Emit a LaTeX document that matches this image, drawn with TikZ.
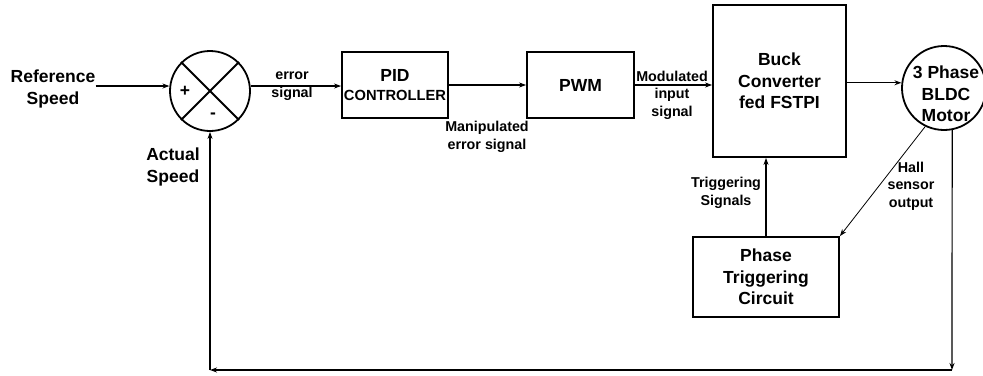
\documentclass[tikz,border=0pt]{standalone}
\usepackage{fontspec}
\setmainfont{Liberation Sans}
\usetikzlibrary{arrows.meta}
\begin{document}
\begin{tikzpicture}[x = 1pt, y = -1pt,
        every node/.style = {font = \bfseries\fontsize{17.5}{21.5}\selectfont, align = center, inner sep = 0pt},
        small/.style = {font = \bfseries\fontsize{14.3}{17.5}\selectfont},
        blk/.style = {draw, line width = 1.8pt},
        ring/.style = {draw, circle, line width = 1.8pt, minimum size = #1},
        conn/.style = {line width = 1.2pt, -{Stealth[length = 7pt, width = 5pt]}}]
        \useasboundingbox (0, 0) rectangle (983, 375);
        % summing junction
        \node[ring = 80pt] (sum) at (210, 91) {};
        \draw[line width = 1.8pt] (sum.45) -- (sum.225) (sum.135) -- (sum.315);
        \node (plus) at (185, 91) {+};
        \node (minus) at (213, 116) {-};
        % blocks
        \node (ref) at (53, 89) {Reference\\Speed};
        \node[blk, minimum width = 106pt, minimum height = 66pt] (pid) at (395, 85) {PID\\[-2pt]{\fontsize{14.7}{17}\selectfont CONTROLLER}};
        \node[blk, minimum width = 107pt, minimum height = 66pt] (pwm) at (580.5, 85) {PWM};
        \node[blk, minimum width = 133pt, minimum height = 152pt] (buck) at (779.5, 81) {Buck\\Converter\\fed FSTPI};
        \node[blk, minimum width = 146pt, minimum height = 80pt] (ptc) at (766, 277) {Phase\\Triggering\\Circuit};
        \node[ring = 84pt] (motor) at (944, 88) {};
        \node (mtxt) at (946, 94) {3 Phase\\BLDC\\Motor};
        \coordinate (br) at (952, 370);
        \coordinate (bl) at (210, 370);
        % labels
        \node[small] (err) at (292, 86) {error\\signal};
        \node[small] (man) at (487, 137) {Manipulated\\error signal};
        \node[small] (mod) at (672, 95) {Modulated\\input\\signal};
        \node (act) at (173, 167) {Actual\\Speed};
        \node[small] (trig) at (726, 193) {Triggering\\Signals};
        \node[small] (hall) at (911, 186) {Hall\\sensor\\output};
        % connectors
        \draw[conn] (ref.east |- sum.173) -- (sum.173);
        \draw[conn] (sum.7) -- (pid.west |- sum.7);
        \draw[conn] (pid.east) -- (pwm.west);
        \draw[conn] (pwm.east) -- (buck.west |- pwm.east);
        \draw[conn] (buck.east |- motor.173) -- (motor.173);
        \draw[conn] (ptc.north) -- (ptc.north |- buck.south);
        \draw[line width = 0.8pt, -{Stealth[length = 7pt, width = 5pt]}] (motor.244) -- (ptc.north east);
        \draw[conn] (motor.281) -- (br);
        \draw[conn] (br) -- (bl);
        \draw[conn] (bl) -- (sum.south);
    \end{tikzpicture}
\end{document}
